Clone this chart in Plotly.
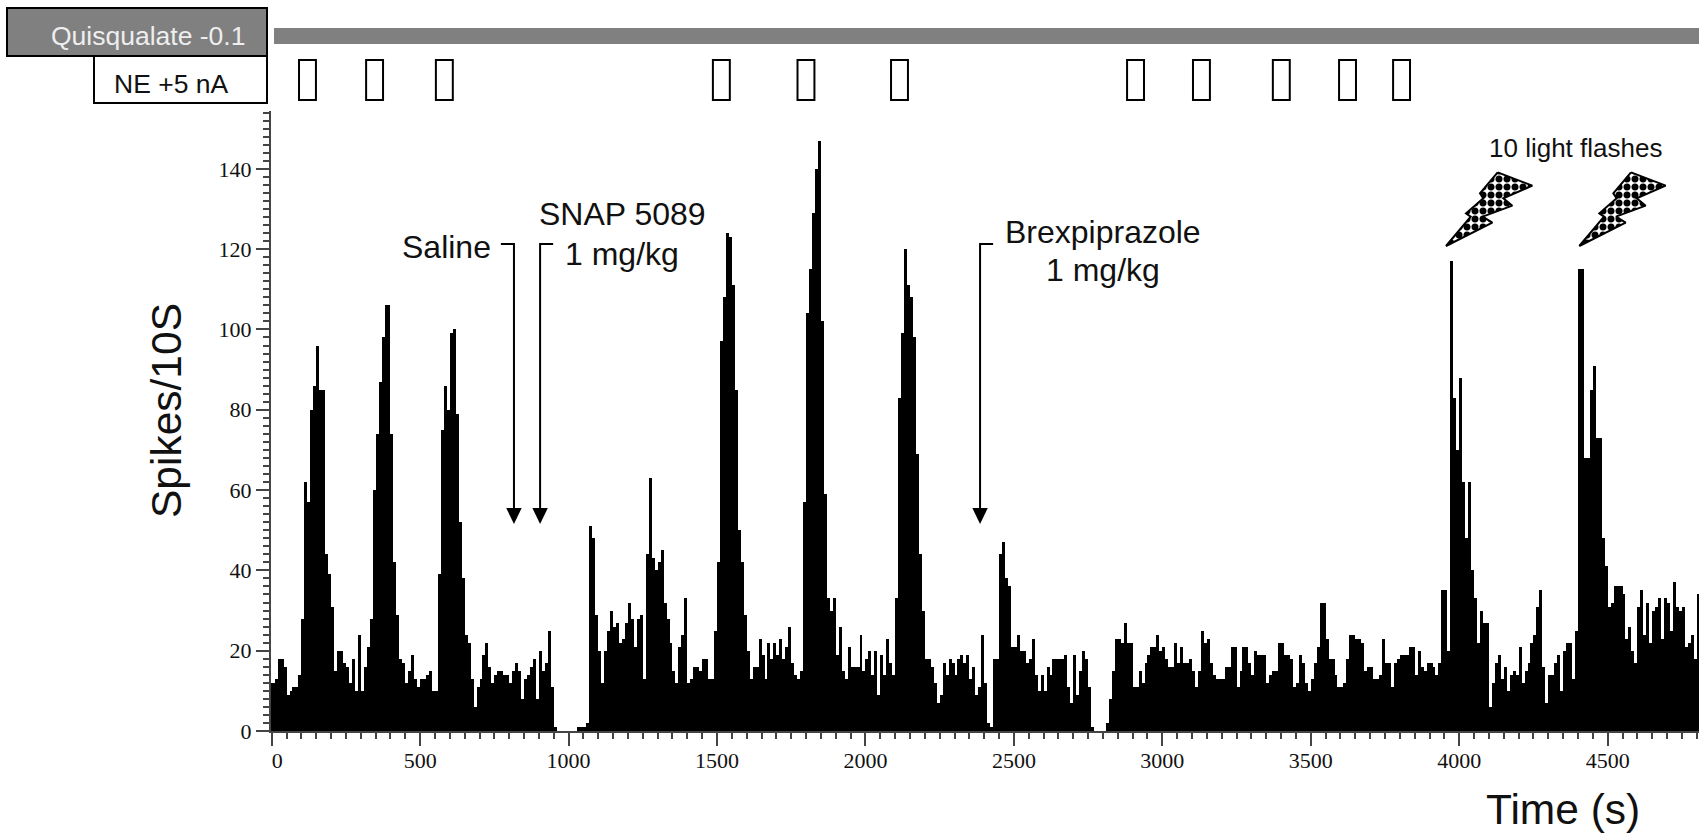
import plotly.graph_objects as go

# Spike counts per 10 s bin, one array per stretch of the record
pre_record = [12]
baseline_ne1 = [12,13,18,18,16,9,10,11,11,14,28,62,57,80,86,96,85,85,44,39,31,15,20,20,17,16,12,18,10,24,10,16,21,28]
ne2 = [60,74,87,98,106,106,74,42,29,18,17,12,15,19,13,11,13,13,14,15,10,10,39]
ne3_saline = [75,86,80,99,100,79,52,38,24,22,13,6,11,13,19,22,16,12,14,15,15,14,14,12,15,17,15,8,13,14,16,18,8,20,15,17,25,11,1]
silence_1 = [0,0,0,0,0,0,0,1,1,1,2]
snap_recovery = [51,48,29,20,12,20,25,30,26,27,22,23,27,32,28,21,28,29,13,44,63,43,40,42,45,32,28,22,15,12,21,24,33,12,13,16,16,15,18,18,13,13,25,42]
snap_ne1 = [97,108,124,123,111,85,50,42,29,20,13,16,16,23,19,13,22,18,22,19,23,18,21,26,17,14,13,15]
snap_ne2 = [57,104,115,129,140,147,102,59]
between_ne = [33,30,33,19,26,15,13,21,16,16,16,24,15,18,20,14,20,9,19,14,23,17,14,33]
snap_ne3 = [83,99,120,111,108,98,69,44,30,18,18,16,12,7,9,17,14,18,17,14,18,19,17,19,13,16,9,11,24,12,2,1]
brex_onset = [18,18,44,47,38,36,21,21,24,20,20,17,18,23,14,10,14,10,16,14,18,18,18,18,19,11,7,19,9,15,20,18,11,1]
silence_2 = [0,0,0,0,2]
brex_late = [8,15,23,23,22,27,22,22,11,11,15,12,17,19,21,21,24,20,21,18,16,16,22,17,21,17,17,18,15,11,15,25,22,23,17,14,13]
before_flash = [13,13,16,16,21,21,11,15,21,21,17,14,20,19,19,19,12,14,15,15,22,22,19,19,18,11,12,19,17,12,10,13,17,21,32,32,23,18,18,14,11,11,12,18,24,24,23,23,22,15,16,16,13,13,14,23,17,17,11,17,18,19,19,19,21,21,14,20,16,15,17,17,16,14,17,35,35,20]
flash_1 = [117,83,70,88,62,48,62,40,33,22,30,27,27,6,12,17,19,13,16,10,14,15,14,21,12,15,17,22,24,31,35,16,7,14,14,17,19,10,20,22,22,13,25]
flash_2 = [115,115,68,68,85,91,73,73,48,41,31,32,36,36,36,34,23,26,20,17,31,35,24,32,22,30,31,33,23,33,32,25,37,31,30,31,21,22,24,18,34]

spikes = (pre_record + baseline_ne1 + ne2 + ne3_saline + silence_1 + snap_recovery + snap_ne1 + snap_ne2
          + between_ne + snap_ne3 + brex_onset + silence_2 + brex_late + before_flash + flash_1 + flash_2)
bin_seconds = 10
bin_centres = [i * bin_seconds - bin_seconds / 2 for i in range(len(spikes))]

x_tick_values = [0, 500, 1000, 1500, 2000, 2500, 3000, 3500, 4000, 4500]
x_tick_labels = ["\u00a0\u00a00", "500", "1000", "1500", "2000", "2500", "3000", "3500", "4000", "4500"]

ne_starts = [92, 318, 553, 1486, 1771, 2086, 2881, 3103, 3372, 3595, 3777]
ne_width = 57
drug_times = [816, 904, 2386]

W, H = 1699, 836
L, R, T, B = 271, 1699, 111, 731
X_MIN, X_MAX = -2.4, 4807.7
Y_MIN, Y_MAX = 0, 154.4


def px(x):
    return (x - L) / (R - L)


def py(y):
    return (B - y) / (B - T)


def dx(x):
    return X_MIN + (x - L) / (R - L) * (X_MAX - X_MIN)


def dy(y):
    return Y_MAX * (B - y) / (B - T)


fig = go.Figure()
fig.add_trace(go.Bar(x=bin_centres, y=spikes, width=bin_seconds, marker=dict(color="black", line_width=0),
                     hoverinfo="skip", showlegend=False))

# lightning bolts (pixel outline relative to the crop used to measure them)
BOLT = [(293,157),(397,197),(310,235),(337,257),(248,290),(277,308),(138,378),(212,290),(198,280),(250,235),(240,220),(293,157)]
for off in (0, 400):
    xs = [dx(1400 + (a + off) / 3) for a, _ in BOLT]
    ys = [dy(120 + b / 3) for _, b in BOLT]
    fig.add_trace(go.Scatter(x=xs, y=ys, mode="lines", fill="toself", fillcolor="white",
                             fillpattern=dict(shape=".", size=8, solidity=0.6, fgcolor="black", bgcolor="white",
                                              fgopacity=1, fillmode="replace"),
                             line=dict(color="black", width=2), hoverinfo="skip", showlegend=False))

shapes = []
LINE = dict(color="black", width=2)
# header boxes
shapes.append(dict(type="rect", xref="paper", yref="paper", x0=px(7), x1=px(267), y0=py(56), y1=py(8),
                   fillcolor="#808080", line=LINE))
shapes.append(dict(type="rect", xref="paper", yref="paper", x0=px(94), x1=px(267), y0=py(103), y1=py(56),
                   fillcolor="white", line=LINE))
shapes.append(dict(type="rect", xref="paper", yref="paper", x0=px(274), x1=1, y0=py(44), y1=py(28),
                   fillcolor="#808080", line=dict(width=0)))
for s in ne_starts:
    shapes.append(dict(type="rect", xref="paper", yref="paper", x0=px(271.7 + s * 0.2969),
                       x1=px(271.7 + (s + ne_width) * 0.2969), y0=py(100), y1=py(60),
                       fillcolor="white", line=LINE))
# drug arrows
for t, hook in zip(drug_times, (-44, 44, 44)):
    top, bottom = dy(244), dy(510)
    shapes.append(dict(type="path", xref="x", yref="y", line=LINE,
                       path=f"M {t + hook} {top} L {t} {top} L {t} {bottom}"))
    shapes.append(dict(type="path", xref="x", yref="y", line=dict(width=0), fillcolor="black",
                       path=f"M {t - 26} {dy(508)} L {t + 26} {dy(508)} L {t} {dy(524)} Z"))


def label(text, x, y, size, color="#111111"):
    return dict(text=text, x=px(x), y=py(y), xref="paper", yref="paper", showarrow=False,
                xanchor="center", yanchor="middle", font=dict(family="Liberation Sans", size=size, color=color))


annotations = [
    label("Quisqualate -0.1", 148, 36, 26.5, "#eeeeee"),
    label("NE +5 nA", 171, 84, 26.5),
    label("Saline", 446, 247, 32),
    label("SNAP 5089", 622, 214, 32),
    label("1 mg/kg", 622, 254, 32),
    label("Brexpiprazole", 1103, 232, 32),
    label("1 mg/kg", 1103, 270, 32),
    label("10 light flashes", 1575, 148, 26),
    label("Time (s)", 1563, 809, 42.5),
]
yt = label("Spikes/10S", 166, 411, 42.5)
yt["textangle"] = -90
annotations.append(yt)

AX = "#444444"
TICKFONT = dict(family="Liberation Serif", size=22, color="#111111")
fig.update_layout(
    width=W, height=H, paper_bgcolor="white", plot_bgcolor="white",
    margin=dict(l=L, r=W - R, t=T, b=H - B, pad=0),
    bargap=0, shapes=shapes, annotations=annotations, showlegend=False,
    xaxis=dict(range=[X_MIN, X_MAX], showgrid=False, zeroline=False, showline=True, linecolor=AX, linewidth=2,
               ticks="outside", ticklen=13, tickwidth=1.5, tickcolor=AX, tickmode="array",
               tickvals=x_tick_values, ticktext=x_tick_labels, tickfont=TICKFONT, ticklabelstandoff=-4,
               minor=dict(tick0=0, dtick=50, ticks="outside", ticklen=6, tickwidth=1.5, tickcolor=AX, showgrid=False)),
    yaxis=dict(range=[Y_MIN, Y_MAX], showgrid=False, zeroline=False, showline=True, linecolor=AX, linewidth=2,
               ticks="outside", ticklen=13, tickwidth=1.5, tickcolor=AX, tick0=0, dtick=20, tickfont=TICKFONT,
               minor=dict(dtick=2, ticks="outside", ticklen=6, tickwidth=1.5, tickcolor=AX, showgrid=False)),
)

fig.write_html("out.html", config=dict(displayModeBar=False),
               post_script="document.body.style.margin='0';document.body.style.overflow='hidden';")
